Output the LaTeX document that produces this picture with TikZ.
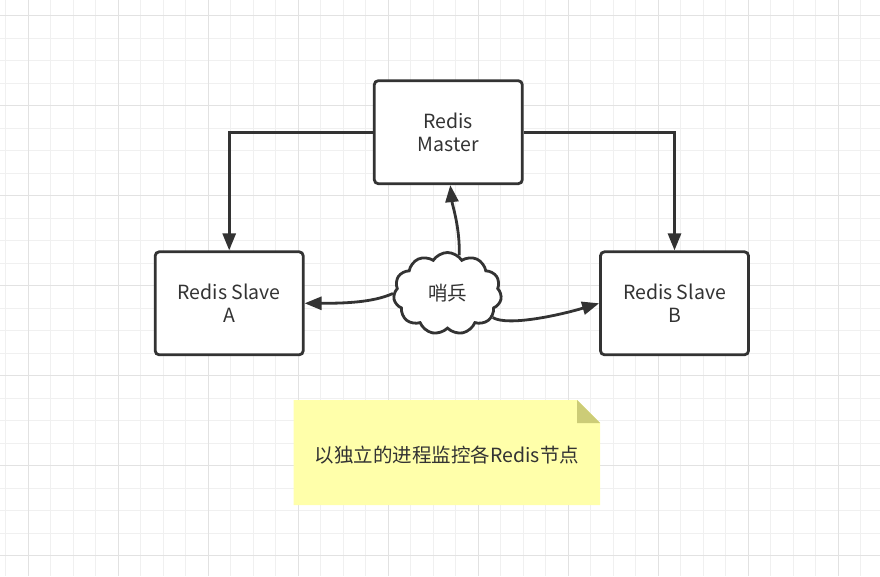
\documentclass[tikz,border=0pt]{standalone}
\usepackage{fontspec}
\setmainfont{Noto Sans CJK SC}
\usetikzlibrary{shapes.symbols,arrows.meta}
\definecolor{ink}{HTML}{333333}
\definecolor{gridthin}{HTML}{F0F0F0}
\definecolor{gridbold}{HTML}{E2E2E2}
\definecolor{notefill}{HTML}{FFFFAA}
\definecolor{notefold}{HTML}{CCCC77}
\tikzset{
  box/.style={rectangle, rounded corners=4pt, draw=ink, line width=2.8pt, fill=white,
    minimum width=148pt, minimum height=103pt, align=center, text=ink,
    font=\fontsize{19.5}{23.5}\selectfont},
  sentinel/.style={cloud, cloud puffs=11, cloud puff arc=115, draw=ink, line width=2.8pt,
    fill=white, minimum width=108pt, minimum height=82pt, inner sep=0pt, text=ink,
    font=\fontsize{19.5}{23.5}\selectfont},
  conn/.style={draw=ink, line width=2.8pt, -{Triangle[length=17pt,width=13pt]}},
  notetext/.style={text=ink, font=\fontsize{19.5}{23}\selectfont}
}
\begin{document}
\begin{tikzpicture}[x=1pt,y=-1pt]
\useasboundingbox (0,0) rectangle (880,576);
\fill[white] (0,0) rectangle (880,576);
% grid
\foreach \k in {0,...,38} \draw[gridthin, line width=1pt] ({5.8+22.5*\k},0) -- ({5.8+22.5*\k},576);
\foreach \k in {0,...,25} \draw[gridthin, line width=1pt] (0,{15.5+22.5*\k}) -- (880,{15.5+22.5*\k});
\foreach \k in {0,...,9} \draw[gridbold, line width=1pt] ({28.3+90*\k},0) -- ({28.3+90*\k},576);
\foreach \k in {0,...,6} \draw[gridbold, line width=1pt] (0,{15.5+90*\k}) -- (880,{15.5+90*\k});
% note
\fill[notefill] (293.5,400) -- (577,400) -- (600,423) -- (600,505) -- (293.5,505) -- cycle;
\fill[notefold] (577,400) -- (600,423) -- (577,423) -- cycle;
\node[notetext] (note) at (447,455) {以独立的进程监控各Redis节点};
% nodes
\node[box] (master) at (448.3,132.2) {Redis\\Master};
\node[box] (slaveA) at (229.2,303.3) {Redis Slave\\A};
\node[box] (slaveB) at (674.5,303.3) {Redis Slave\\B};
\node[sentinel] (cloud) at (447.5,293.5) {哨兵};
% connectors
\draw[conn] (master.west) -| (slaveA.north);
\draw[conn] (master.east) -| (slaveB.north);
\draw[conn] (cloud.73) .. controls +(1,-27) and +(2,20) .. ([xshift=2pt]master.south);
\draw[conn] (cloud.180) .. controls +(-20,9) and +(40,0) .. (slaveA.east);
\draw[conn] (cloud.-28) .. controls +(15,9) and +(-40,12) .. (slaveB.west);
\end{tikzpicture}
\end{document}
